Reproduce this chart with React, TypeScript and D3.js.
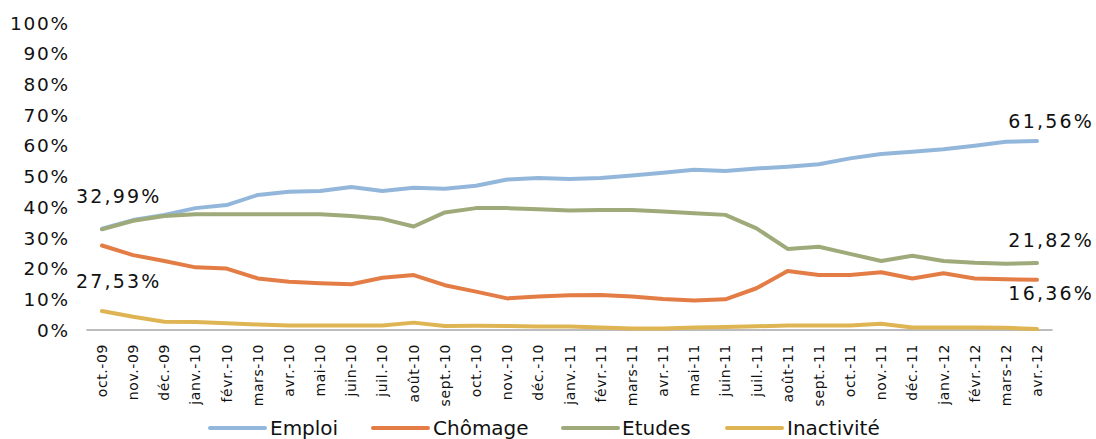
import React from 'react';
import * as d3 from 'd3';

const months = [
  'oct.-09', 'nov.-09', 'déc.-09', 'janv.-10', 'févr.-10', 'mars-10', 'avr.-10', 'mai-10',
  'juin-10', 'juil.-10', 'août-10', 'sept.-10', 'oct.-10', 'nov.-10', 'déc.-10', 'janv.-11',
  'févr.-11', 'mars-11', 'avr.-11', 'mai-11', 'juin-11', 'juil.-11', 'août-11', 'sept.-11',
  'oct.-11', 'nov.-11', 'déc.-11', 'janv.-12', 'févr.-12', 'mars-12', 'avr.-12',
];

const emploi = [
  32.99, 35.8, 37.5, 39.7, 40.7, 44.0, 45.0, 45.3, 46.6, 45.3, 46.3, 46.0, 47.0, 49.0, 49.5, 49.2,
  49.5, 50.3, 51.2, 52.2, 51.8, 52.6, 53.2, 54.0, 55.9, 57.3, 58.1, 58.9, 60.0, 61.3, 61.56,
];
const chomage = [
  27.53, 24.4, 22.5, 20.4, 20.0, 16.8, 15.7, 15.2, 14.9, 17.0, 17.9, 14.6, 12.5, 10.3, 10.9, 11.3,
  11.4, 10.9, 10.1, 9.6, 10.0, 13.6, 19.2, 17.9, 17.9, 18.8, 16.8, 18.5, 16.8, 16.5, 16.36,
];
const etudes = [
  32.8, 35.6, 37.1, 37.7, 37.7, 37.7, 37.7, 37.7, 37.1, 36.2, 33.7, 38.3, 39.7, 39.7, 39.3, 38.9,
  39.1, 39.1, 38.6, 38.0, 37.5, 33.1, 26.4, 27.1, 24.8, 22.5, 24.2, 22.5, 21.9, 21.6, 21.82,
];
const inactivite = [
  6.2, 4.3, 2.7, 2.6, 2.2, 1.8, 1.5, 1.5, 1.5, 1.5, 2.4, 1.3, 1.4, 1.3, 1.1, 1.1,
  0.8, 0.5, 0.5, 0.8, 1.0, 1.2, 1.5, 1.5, 1.5, 2.0, 0.8, 0.8, 0.8, 0.7, 0.3,
];

const yTicks = [0, 10, 20, 30, 40, 50, 60, 70, 80, 90, 100];

const series = [
  { name: 'Emploi', values: emploi, color: '#93b7db' },
  { name: 'Chômage', values: chomage, color: '#e37d45' },
  { name: 'Etudes', values: etudes, color: '#9eaa7a' },
  { name: 'Inactivité', values: inactivite, color: '#dfb553' },
];

const fmt = (v: number) => v.toFixed(2).replace('.', ',') + '%';

export default function App() {
  const width = 1096;
  const height = 439;
  const font = "'DejaVu Sans', sans-serif";

  const x = d3.scalePoint<string>().domain(months).range([86.4, 1052.6]).padding(0.5);
  const y = d3.scaleLinear().domain([0, 100]).range([330, 23]);

  const line = d3
    .line<number>()
    .x((_, i) => x(months[i]) as number)
    .y((d) => y(d));

  const first = months[0];

  const legendPos = [
    { lx: 210, tx: 270 },
    { lx: 373, tx: 433 },
    { lx: 563, tx: 622 },
    { lx: 727, tx: 787 },
  ];

  const lbl = { fontSize: 19, fill: '#111', letterSpacing: 2.2 };

  return (
    <svg
      width={width}
      height={height}
      style={{ position: 'absolute', left: 0, top: 0, background: '#fff' }}
      fontFamily={font}
    >
      {/* y axis labels */}
      {yTicks.map((t) => (
        <text key={t} x={70} y={y(t)} dy="0.36em" textAnchor="end" fontSize={18.5} letterSpacing={1.8} fill="#111">
          {t}%
        </text>
      ))}

      {/* x axis baseline */}
      <line x1={86.4} x2={1052.6} y1={y(0)} y2={y(0)} stroke="#a6a6a6" strokeWidth={1.5} />

      {/* x labels */}
      {months.map((m) => (
        <text
          key={m}
          transform={`translate(${(x(m) as number) + 5},344) rotate(-90)`}
          textAnchor="end"
          fontSize={14}
          letterSpacing={0.6}
          fill="#111"
        >
          {m}
        </text>
      ))}

      {/* lines */}
      {series.map((s) => (
        <path
          key={s.name}
          d={line(s.values) || ''}
          fill="none"
          stroke={s.color}
          strokeWidth={4}
          strokeLinejoin="round"
          strokeLinecap="round"
        />
      ))}

      {/* data labels */}
      <text x={x(first)! - 26} y={203} {...lbl}>{fmt(emploi[0])}</text>
      <text x={x(first)! - 26} y={288} {...lbl}>{fmt(chomage[0])}</text>
      <text x={1094} y={128} textAnchor="end" {...lbl}>{fmt(emploi[emploi.length - 1])}</text>
      <text x={1094} y={247} textAnchor="end" {...lbl}>{fmt(etudes[etudes.length - 1])}</text>
      <text x={1094} y={300} textAnchor="end" {...lbl}>{fmt(chomage[chomage.length - 1])}</text>

      {/* legend */}
      {series.map((s, i) => (
        <g key={s.name}>
          <line
            x1={legendPos[i].lx}
            x2={legendPos[i].lx + 55}
            y1={428}
            y2={428}
            stroke={s.color}
            strokeWidth={4}
            strokeLinecap="round"
          />
          <text x={legendPos[i].tx} y={428} dy="0.36em" fontSize={20} fill="#111">
            {s.name}
          </text>
        </g>
      ))}
    </svg>
  );
}
